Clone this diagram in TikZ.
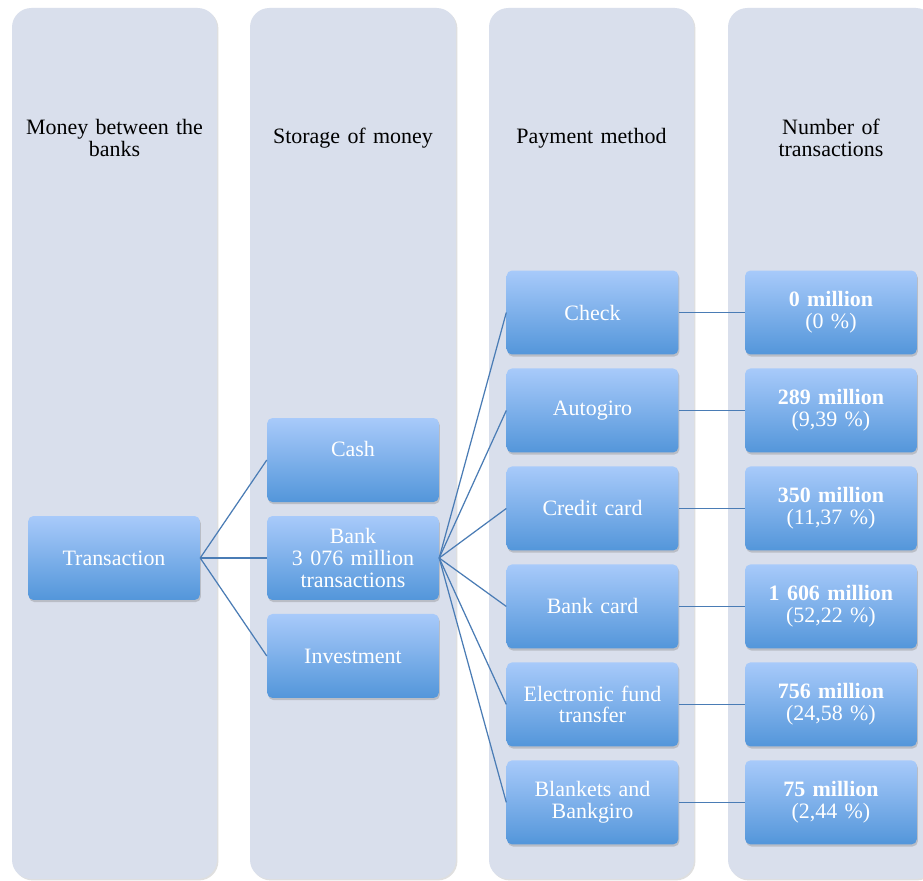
\documentclass[tikz,border=0pt]{standalone}
\usepackage{fontspec}
\setmainfont{Liberation Serif}
\usepackage{tikz}
\usetikzlibrary{shapes,shadows}
\definecolor{lanefill}{RGB}{217,223,236}
\definecolor{boxtop}{RGB}{168,202,250}
\definecolor{boxbottom}{RGB}{83,150,218}
\definecolor{linkblue}{RGB}{74,124,181}
\tikzstyle{lane} = [fill=lanefill, rounded corners=11pt, drop shadow={opacity=0.25, shadow xshift=0.8pt, shadow yshift=-0.8pt}]
\tikzstyle{head} = [text width=3.7cm, align=center, font=\fontsize{12.5}{12.3}\selectfont]
\tikzstyle{block} = [rectangle, rounded corners=3pt, top color=boxtop, bottom color=boxbottom, text=white, text width=3.2cm, align=center, minimum width=3.4cm, minimum height=1.68cm, font=\fontsize{12.5}{12.3}\selectfont, drop shadow={opacity=0.35, shadow xshift=0.6pt, shadow yshift=-1.2pt}]
\tikzstyle{link} = [draw=linkblue, line width=0.7pt]

\begin{document}
\begin{tikzpicture}[x=0.02cm, y=-0.02cm, node distance=1.96cm]
   \useasboundingbox (0,0) rectangle (923,881);
   \fill[white] (0,0) rectangle (923,881);
   % columns
   \fill[lane] (12,8) rectangle (217,879);
   \fill[lane] (250,8) rectangle (456,879);
   \fill[lane] (489,8) rectangle (694,879);
   \fill[lane] (728,8) rectangle (935,879);
   \node[head] (h1) at (114.5,138) {Money between the\\banks};
   \node[head] (h2) at (353,138)   {Storage of money};
   \node[head] (h3) at (591.5,138) {Payment method};
   \node[head] (h4) at (831,138)   {Number of\\transactions};
   % blocks
   \node[block] (trans) at (114,558)            {Transaction};
   \node[block] (bank)  at (353,558)            {Bank\\3 076 million\\transactions};
   \node[block] (cash)   [above of=bank]        {Cash\\\mbox{}};
   \node[block] (invest) [below of=bank]        {Investment};
   \node[block] (check)  at (592.5,312.5)       {Check};
   \node[block] (autog)  [below of=check]       {Autogiro};
   \node[block] (credit) [below of=autog]       {Credit card};
   \node[block] (bcard)  [below of=credit]      {Bank card};
   \node[block] (eft)    [below of=bcard]       {Electronic fund\\transfer};
   \node[block] (blank)  [below of=eft]         {Blankets and\\Bankgiro};
   \node[block, node distance=4.77cm] (n1) [right of=check]  {\textbf{0 million}\\(0 \%)};
   \node[block, node distance=4.77cm] (n2) [right of=autog]  {\textbf{289 million}\\(9,39 \%)};
   \node[block, node distance=4.77cm] (n3) [right of=credit] {\textbf{350 million}\\(11,37 \%)};
   \node[block, node distance=4.77cm] (n4) [right of=bcard]  {\textbf{1 606 million}\\(52,22 \%)};
   \node[block, node distance=4.77cm] (n5) [right of=eft]    {\textbf{756 million}\\(24,58 \%)};
   \node[block, node distance=4.77cm] (n6) [right of=blank]  {\textbf{75 million}\\(2,44 \%)};
   % links
   \draw[link] (trans.east) -- (cash.west);
   \draw[link] (trans.east) -- (bank.west);
   \draw[link] (trans.east) -- (invest.west);
   \draw[link] (bank.east) -- (check.west);
   \draw[link] (bank.east) -- (autog.west);
   \draw[link] (bank.east) -- (credit.west);
   \draw[link] (bank.east) -- (bcard.west);
   \draw[link] (bank.east) -- (eft.west);
   \draw[link] (bank.east) -- (blank.west);
   \draw[link] (check.east) -- (n1.west);
   \draw[link] (autog.east) -- (n2.west);
   \draw[link] (credit.east) -- (n3.west);
   \draw[link] (bcard.east) -- (n4.west);
   \draw[link] (eft.east) -- (n5.west);
   \draw[link] (blank.east) -- (n6.west);
\end{tikzpicture}
\end{document}
